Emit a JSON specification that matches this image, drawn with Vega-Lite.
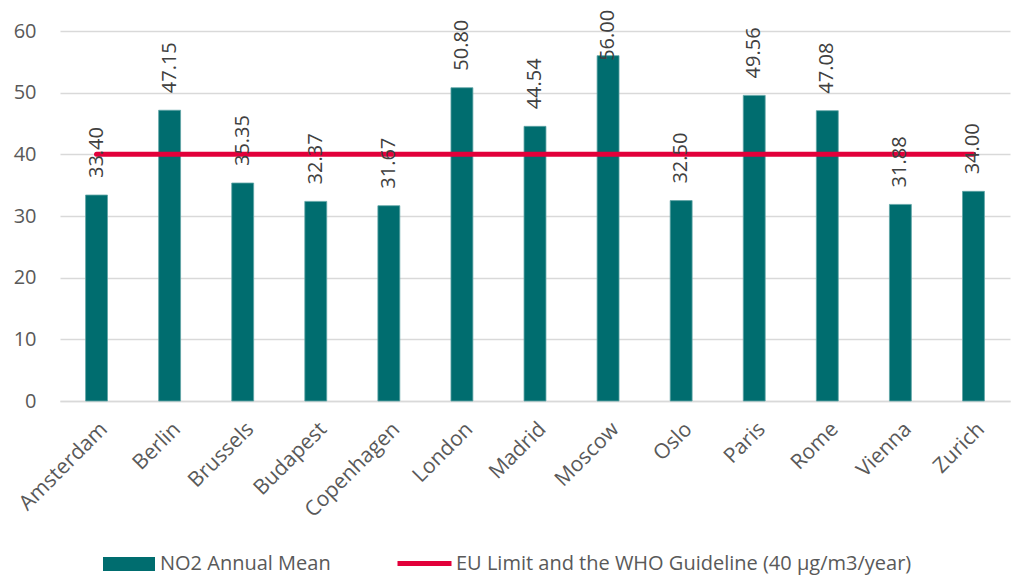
{
  "$schema": "https://vega.github.io/schema/vega-lite/v6.json",
  "width": 950,
  "height": 370,
  "autosize": {"type": "none"},
  "padding": {"left": 60, "top": 31, "right": 6, "bottom": 176},
  "background": "white",
  "config": {
    "view": {"stroke": null},
    "font": "Open Sans",
    "axis": {"labelFont": "Open Sans", "labelFontSize": 20, "labelColor": "#595959", "titleFont": "Open Sans"},
    "legend": {"labelFont": "Open Sans", "labelFontSize": 20, "labelColor": "#595959"}
  },
  "data": {
    "values": [
      {"city": "Amsterdam", "no2": 33.40, "limit": 40},
      {"city": "Berlin", "no2": 47.15, "limit": 40},
      {"city": "Brussels", "no2": 35.35, "limit": 40},
      {"city": "Budapest", "no2": 32.37, "limit": 40},
      {"city": "Copenhagen", "no2": 31.67, "limit": 40},
      {"city": "London", "no2": 50.80, "limit": 40},
      {"city": "Madrid", "no2": 44.54, "limit": 40},
      {"city": "Moscow", "no2": 56.00, "limit": 40},
      {"city": "Oslo", "no2": 32.50, "limit": 40},
      {"city": "Paris", "no2": 49.56, "limit": 40},
      {"city": "Rome", "no2": 47.08, "limit": 40},
      {"city": "Vienna", "no2": 31.88, "limit": 40},
      {"city": "Zurich", "no2": 34.00, "limit": 40}
    ]
  },
  "encoding": {
    "x": {
      "field": "city", "type": "nominal", "sort": null,
      "scale": {"paddingInner": 0.7, "paddingOuter": 0.35},
      "axis": {"title": null, "labelAngle": -45, "labelAlign": "right", "labelBaseline": "top", "labelPadding": 17, "labelFontSize": 21, "ticks": false, "domainColor": "#D9D9D9", "domainWidth": 1.5, "grid": false}
    }
  },
  "layer": [
    {
      "mark": {"type": "bar", "color": "#006D6F", "stroke": "#5FA5A6", "strokeWidth": 0.8},
      "encoding": {
        "y": {
          "field": "no2", "type": "quantitative",
          "scale": {"domain": [0, 60]},
          "axis": {"title": null, "values": [0, 10, 20, 30, 40, 50, 60], "grid": true, "gridColor": "#D9D9D9", "gridWidth": 1.5, "domain": false, "ticks": false, "labelPadding": 24}
        },
        "fill": {
          "datum": "NO2 Annual Mean",
          "scale": {"domain": ["NO2 Annual Mean"], "range": ["#006D6F"]},
          "legend": {
            "title": null, "orient": "none", "legendX": 43, "legendY": 507,
            "symbolType": "M-1,-0.27H1V0.27H-1Z", "symbolSize": 2704, "symbolStrokeWidth": 0,
            "labelOffset": 5, "labelLimit": 0
          }
        }
      }
    },
    {
      "mark": {"type": "line", "strokeWidth": 5, "strokeCap": "round"},
      "encoding": {
        "y": {"field": "limit", "type": "quantitative"},
        "stroke": {
          "datum": "EU Limit and the WHO Guideline (40 µg/m3/year)",
          "scale": {"domain": ["EU Limit and the WHO Guideline (40 µg/m3/year)"], "range": ["#E2003A"]},
          "legend": {
            "title": null, "orient": "none", "legendX": 335, "legendY": 503,
            "symbolType": "M-1,0H1", "symbolSize": 2916, "symbolStrokeWidth": 5,
            "labelOffset": 2, "labelLimit": 0
          }
        }
      }
    },
    {
      "transform": [{"calculate": "min(datum.no2, 52.4)", "as": "labelPos"}],
      "mark": {"type": "text", "angle": -90, "align": "left", "baseline": "middle", "dx": 17, "fontSize": 20, "color": "#404040", "font": "Open Sans"},
      "encoding": {
        "y": {"field": "labelPos", "type": "quantitative"},
        "text": {"field": "no2", "type": "quantitative", "format": ".2f"}
      }
    }
  ]
}
